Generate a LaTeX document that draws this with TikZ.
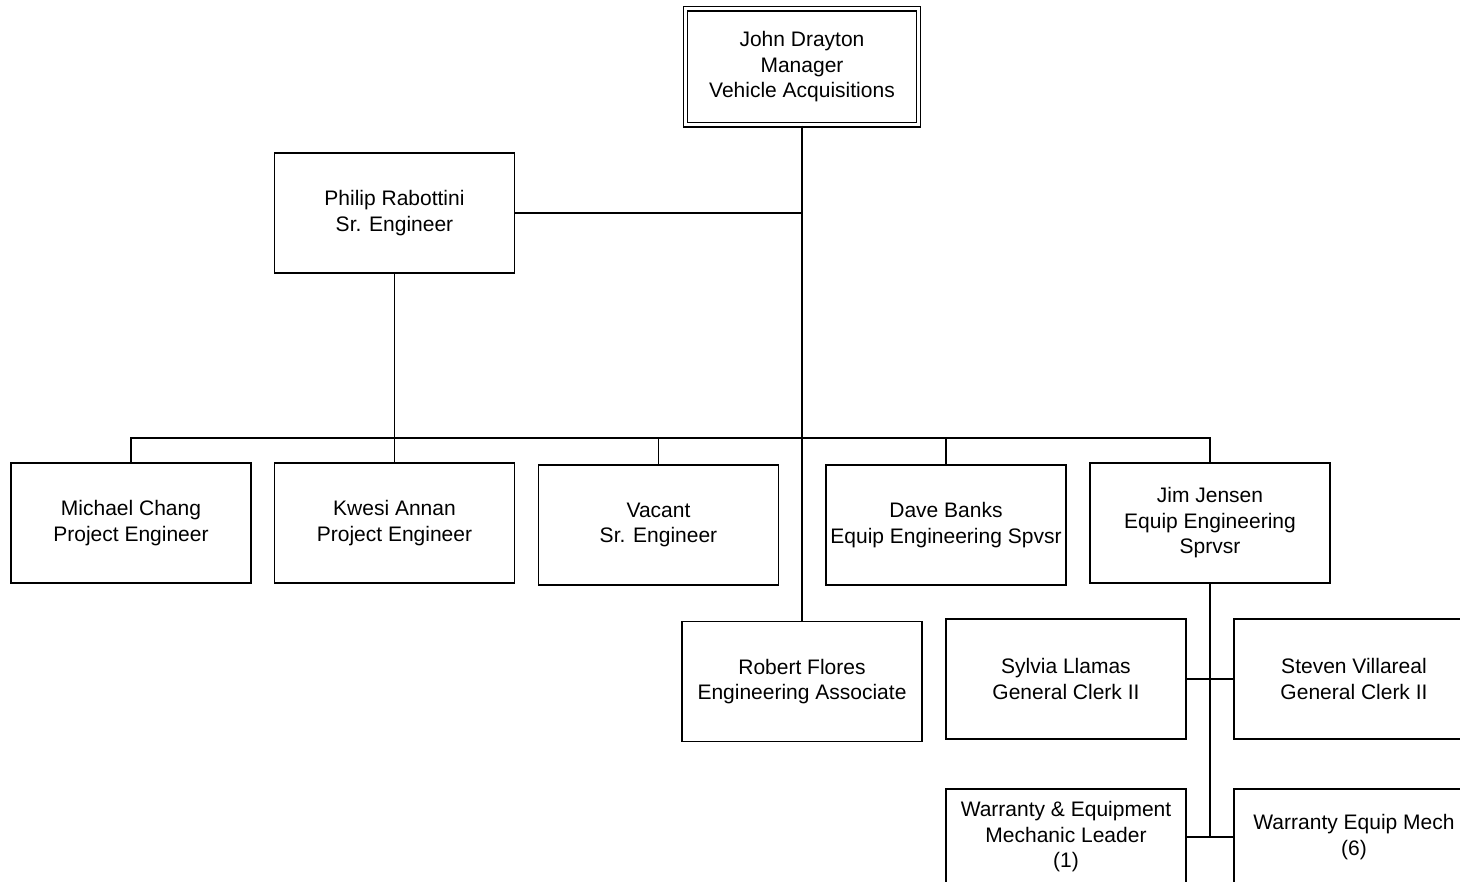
\documentclass[tikz,border=0pt]{standalone}
\usepackage{fontspec}
\setmainfont{Liberation Sans}

\begin{document}
\begin{tikzpicture}[x=1pt,y=-1pt,font=\fontsize{21}{25.5}\selectfont,
  orgbox/.style={draw,line width=1.4pt,minimum width=240pt,minimum height=120pt,
    inner sep=2pt,align=center},
  link/.style={line width=1.5pt}]
  \path[use as bounding box] (0,0) rectangle (1460,882);

  \node[orgbox,double,double distance=3pt,line width=1.2pt,minimum width=233pt,minimum height=116pt]
    (drayton) at (802,67) {John Drayton\\Manager\\Vehicle Acquisitions};
  \node[orgbox] (rabottini) at (394.5,213) {Philip Rabottini\\Sr. Engineer};

  \node[orgbox] (chang) at (131,523) {Michael Chang\\Project Engineer};
  \node[orgbox] (annan) at (394.5,523) {Kwesi Annan\\Project Engineer};
  \node[orgbox] (vacant) at (658.5,525) {Vacant\\Sr. Engineer};
  \node[orgbox] (banks) at (946,525) {Dave Banks\\Equip Engineering Spvsr};
  \node[orgbox] (jensen) at (1210,523) {Jim Jensen\\Equip Engineering\\Sprvsr};
  \node[orgbox] (flores) at (802,681.5) {Robert Flores\\Engineering Associate};
  \node[orgbox] (llamas) at (1066,679) {Sylvia Llamas\\General Clerk II};
  \node[orgbox] (villareal) at (1354,679) {Steven Villareal\\General Clerk II};
  \node[orgbox,minimum height=96pt] (leader) at (1066,837)
    {Warranty \& Equipment\\Mechanic Leader\\(1)};
  \node[orgbox,minimum height=96pt] (mech) at (1354,837) {Warranty Equip Mech\\(6)};

  \coordinate (bus) at (802,438);
  \draw[link,line width=2.4pt] (drayton.south) -- (bus);
  \draw[link] (bus) -- (flores.north);
  \draw[link] (chang.north) |- (bus) -| (jensen.north);
  \draw[link] (annan.north) -- (annan.north |- bus);
  \draw[link] (vacant.north) -- (vacant.north |- bus);
  \draw[link] (banks.north) -- (banks.north |- bus);
  \draw[link] (rabottini.south) -- (rabottini.south |- bus);
  \draw[link] (rabottini.east) -- (rabottini.east -| drayton.south);
  \draw[link] (jensen.south) -- (jensen.south |- leader.east);
  \draw[link] (llamas.east) -- (villareal.west);
  \draw[link] (leader.east) -- (mech.west);
\end{tikzpicture}
\end{document}
